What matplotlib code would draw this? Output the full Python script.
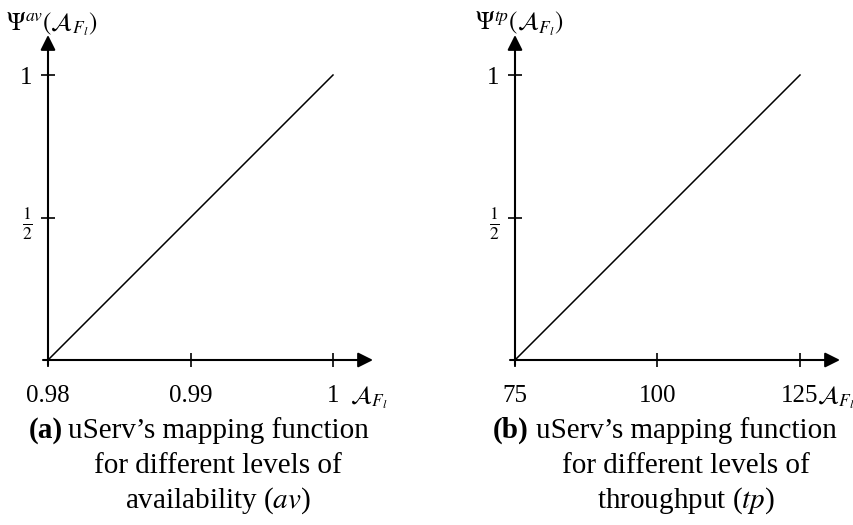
import matplotlib.pyplot as plt

plt.rcParams["font.family"] = ["Liberation Serif", "DejaVu Serif"]
plt.rcParams["mathtext.fontset"] = "stix"

W, H = 854, 525

# availability panel
av_levels = [0.98, 0.99, 1.0]
av_tick_labels = ["0.98", "0.99", "1"]
av_psi = [0.0, 1.0]

# throughput panel
tp_levels = [75, 100, 125]
tp_tick_labels = ["75", "100", "125"]
tp_psi = [0.0, 1.0]

psi_ticks = [0.5, 1.0]
psi_tick_labels = [r"$\frac{1}{2}$", "1"]

FS = 18
CAP_FS = 21
ARROW = dict(arrowstyle="-|>,head_length=0.6,head_width=0.3", mutation_scale=15,
             lw=1.5, color="black", shrinkA=0, shrinkB=0)


def px(x, y):
    return x / W, 1 - y / H


def draw_panel(ax, levels, tick_labels, psi, ylabel):
    x0, x1 = levels[0], levels[-1]
    span = x1 - x0
    ax.set_xlim(x0, x1)
    ax.set_ylim(0, 1)
    ax.patch.set_visible(False)
    for s in ax.spines.values():
        s.set_visible(False)

    # axis lines with arrow heads
    ax.annotate("", xy=(x0 + span * 325 / 285, 0), xytext=(x0 - span * 5 / 285, 0),
                arrowprops=ARROW, annotation_clip=False)
    ax.annotate("", xy=(x0, 1 + 40 / 285), xytext=(x0, -5 / 285),
                arrowprops=ARROW, annotation_clip=False)

    ax.set_xticks(levels, tick_labels)
    ax.set_yticks(psi_ticks, psi_tick_labels)
    ax.tick_params(axis="x", direction="inout", length=10, width=1.2,
                   labelsize=FS, pad=13)
    ax.tick_params(axis="y", direction="inout", length=10, width=1.2,
                   labelsize=FS, pad=6)

    # mapping function
    ax.plot([x0, x1], psi, color="black", lw=1.1, clip_on=False)

    ax.annotate(r"$\mathcal{A}_{F_l}$", xy=(x0 + span * 325 / 285, 0),
                xytext=(-3, -27), textcoords="offset points", ha="center",
                va="center", fontsize=FS, annotation_clip=False)
    ax.annotate(ylabel, xy=(x0, 1 + 40 / 285), xytext=(3, 8),
                textcoords="offset points", ha="center", va="center",
                fontsize=FS, annotation_clip=False)


fig = plt.figure(figsize=(W / 100, H / 100), dpi=100)

ax_av = fig.add_axes([48 / W, (H - 360) / H, 285 / W, 285 / H])
draw_panel(ax_av, av_levels, av_tick_labels, av_psi,
           r"$\Psi^{av}(\mathcal{A}_{F_l})$")

ax_tp = fig.add_axes([515 / W, (H - 360) / H, 285 / W, 285 / H])
draw_panel(ax_tp, tp_levels, tp_tick_labels, tp_psi,
           r"$\Psi^{tp}(\mathcal{A}_{F_l})$")


def caption(tag, tag_x, center_x, lines):
    fig.text(*px(tag_x, 438), tag, fontsize=CAP_FS, fontweight="bold",
             ha="left", va="baseline")
    for i, line in enumerate(lines):
        fig.text(*px(center_x, 438 + 35 * i), line, fontsize=CAP_FS,
                 ha="center", va="baseline")


caption("(a)", 29, 218, ["uServ\u2019s mapping function",
                         "for different levels of",
                         r"availability ($av$)"])
caption("(b)", 493, 686, ["uServ\u2019s mapping function",
                          "for different levels of",
                          r"throughput ($tp$)"])

fig.savefig("out.png", dpi=100)
